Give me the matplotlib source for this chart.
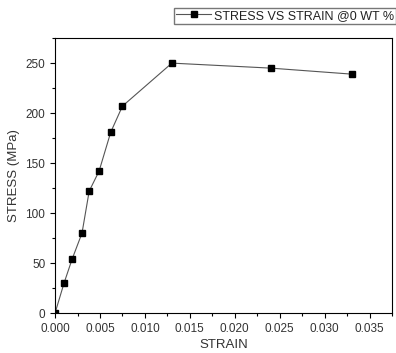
import matplotlib.pyplot as plt
from matplotlib.ticker import MultipleLocator

plt.rcParams['font.family'] = ['Liberation Sans', 'DejaVu Sans']

strain = [0.0, 0.001, 0.0019, 0.003, 0.0038, 0.0049, 0.0062, 0.0075, 0.013, 0.024, 0.033]
stress = [0, 30, 54, 80, 122, 142, 181, 207, 250, 245, 239]

fig = plt.figure(figsize=(3.96, 3.53), dpi=100)
ax = fig.add_axes([0.139, 0.113, 0.851, 0.779])

ax.plot(strain, stress, '-', color='#555555', lw=0.8, marker='s', ms=4.5,
        mfc='black', mec='black', label='STRESS VS STRAIN @0 WT %')

ax.set_xlim(0, 0.0375)
ax.set_ylim(0, 275)
ax.xaxis.set_major_locator(MultipleLocator(0.005))
ax.xaxis.set_minor_locator(MultipleLocator(0.0025))
ax.yaxis.set_major_locator(MultipleLocator(50))
ax.yaxis.set_minor_locator(MultipleLocator(25))
ax.xaxis.set_major_formatter(plt.FormatStrFormatter('%.3f'))
ax.tick_params(which='both', direction='out', labelsize=8.5, width=0.8,
               labelcolor='#333333')
ax.tick_params(which='major', length=3.5)
ax.tick_params(which='minor', length=2)
ax.set_xlabel('STRAIN', fontsize=9.5, color='#333333', labelpad=3)
ax.set_ylabel('STRESS (MPa)', fontsize=9.5, color='#333333')

fig.legend(loc='upper right', bbox_to_anchor=(0.999, 0.978), fontsize=9,
           frameon=True, fancybox=False, edgecolor='#555555', handlelength=2.8,
           borderpad=0.15, handletextpad=0.2, borderaxespad=0,
           labelcolor='#222222')

fig.savefig('out.png', dpi=100)
